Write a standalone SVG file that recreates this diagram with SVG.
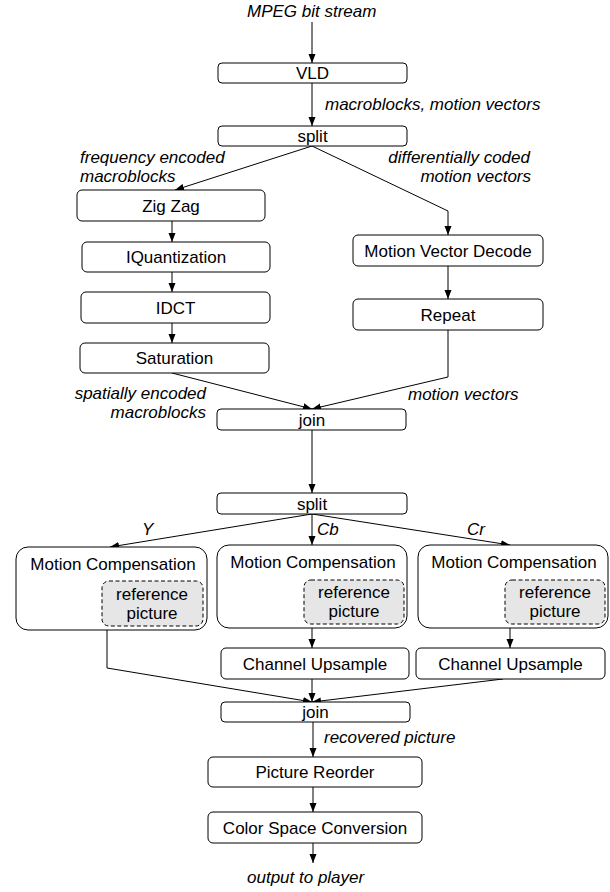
<svg xmlns="http://www.w3.org/2000/svg" width="610" height="892" viewBox="0 0 610 892">
<style>
.box{fill:#fff;stroke:#000;stroke-width:1}
.ref{fill:#e6e6e6;stroke:#000;stroke-width:1;stroke-dasharray:4 2.5}
.t{font-family:"Liberation Sans",Arial,sans-serif;font-size:17px;fill:#000;text-anchor:middle}
.l{font-family:"Liberation Sans",Arial,sans-serif;font-size:17px;font-style:italic;fill:#000}
.c{fill:none;stroke:#000;stroke-width:1}
</style>
<defs>
<marker id="ah" markerUnits="userSpaceOnUse" markerWidth="10" markerHeight="8" refX="9" refY="4" orient="auto">
<path d="M0,0.5 L9,4 L0,7.5 z" fill="#000"/>
</marker>
</defs>
<rect width="610" height="892" fill="#fff"/>

<g id="connectors">
<line class="c" x1="312" y1="22" x2="312" y2="63" marker-end="url(#ah)"/>
<line class="c" x1="312" y1="83" x2="312" y2="126" marker-end="url(#ah)"/>
<line class="c" x1="312" y1="146" x2="175" y2="190" marker-end="url(#ah)"/>
<polyline class="c" points="312,146 448,211 448,235" marker-end="url(#ah)"/>
<line class="c" x1="172" y1="221" x2="172" y2="242" marker-end="url(#ah)"/>
<line class="c" x1="172" y1="272" x2="172" y2="292" marker-end="url(#ah)"/>
<line class="c" x1="172" y1="323" x2="172" y2="343" marker-end="url(#ah)"/>
<line class="c" x1="448" y1="266" x2="448" y2="299" marker-end="url(#ah)"/>
<line class="c" x1="172" y1="373" x2="312" y2="409" marker-end="url(#ah)"/>
<polyline class="c" points="448,330 448,377 312,409" marker-end="url(#ah)"/>
<line class="c" x1="312" y1="430" x2="312" y2="493" marker-end="url(#ah)"/>
<line class="c" x1="312" y1="514" x2="110" y2="547" marker-end="url(#ah)"/>
<line class="c" x1="312" y1="514" x2="312" y2="545" marker-end="url(#ah)"/>
<line class="c" x1="312" y1="514" x2="510" y2="545" marker-end="url(#ah)"/>
<line class="c" x1="312" y1="628" x2="312" y2="648" marker-end="url(#ah)"/>
<line class="c" x1="510" y1="628" x2="510" y2="648" marker-end="url(#ah)"/>
<polyline class="c" points="107,630 107,668 312,702" marker-end="url(#ah)"/>
<line class="c" x1="312" y1="679" x2="312" y2="702" marker-end="url(#ah)"/>
<line class="c" x1="503" y1="679" x2="312" y2="702" marker-end="url(#ah)"/>
<line class="c" x1="313" y1="722" x2="313" y2="757" marker-end="url(#ah)"/>
<line class="c" x1="313" y1="787" x2="313" y2="812" marker-end="url(#ah)"/>
<line class="c" x1="313" y1="843" x2="313" y2="863" marker-end="url(#ah)"/>
</g>

<g id="labels">
<text class="l" x="247" y="17">MPEG bit stream</text>
<text class="l" x="325" y="110">macroblocks, motion vectors</text>
<text class="l" x="80" y="163">frequency encoded</text>
<text class="l" x="80" y="182">macroblocks</text>
<text class="l" x="530" y="163" text-anchor="end">differentially coded</text>
<text class="l" x="531" y="182" text-anchor="end">motion vectors</text>
<text class="l" x="206" y="399" text-anchor="end">spatially encoded</text>
<text class="l" x="206" y="418" text-anchor="end">macroblocks</text>
<text class="l" x="408" y="400">motion vectors</text>
<text class="l" x="142" y="535">Y</text>
<text class="l" x="317" y="535">Cb</text>
<text class="l" x="467" y="535">Cr</text>
<text class="l" x="324" y="743">recovered picture</text>
<text class="l" x="247" y="883">output to player</text>
</g>

<g id="vld"><rect class="box" x="218" y="63" width="189" height="20" rx="4"/><text class="t" x="312.5" y="79">VLD</text></g>
<g id="split1"><rect class="box" x="218" y="126" width="189" height="20" rx="4"/><text class="t" x="312.5" y="142">split</text></g>
<g id="zigzag"><rect class="box" x="77" y="190" width="188" height="31" rx="5"/><text class="t" x="171" y="211.5">Zig Zag</text></g>
<g id="iquant"><rect class="box" x="82" y="242" width="188" height="30" rx="5"/><text class="t" x="176" y="263">IQuantization</text></g>
<g id="idct"><rect class="box" x="81" y="292" width="189" height="31" rx="5"/><text class="t" x="175.5" y="313.5">IDCT</text></g>
<g id="saturation"><rect class="box" x="80" y="343" width="189" height="30" rx="5"/><text class="t" x="174.5" y="364">Saturation</text></g>
<g id="mvd"><rect class="box" x="353" y="235" width="190" height="31" rx="5"/><text class="t" x="448" y="256.5">Motion Vector Decode</text></g>
<g id="repeat"><rect class="box" x="353" y="299" width="190" height="31" rx="5"/><text class="t" x="448" y="320.5">Repeat</text></g>
<g id="join1"><rect class="box" x="217" y="409" width="189" height="21" rx="4"/><text class="t" x="312" y="425.5">join</text></g>
<g id="split2"><rect class="box" x="217" y="493" width="190" height="21" rx="4"/><text class="t" x="312" y="509.5">split</text></g>

<g id="mc-y">
<rect class="box" x="16" y="547" width="191" height="83" rx="12"/>
<text class="t" x="113" y="570">Motion Compensation</text>
<rect class="ref" x="102" y="581" width="101" height="45" rx="7"/>
<text class="t" x="152" y="600">reference</text>
<text class="t" x="152" y="619">picture</text>
</g>
<g id="mc-cb">
<rect class="box" x="217" y="545" width="190" height="83" rx="12"/>
<text class="t" x="313" y="568">Motion Compensation</text>
<rect class="ref" x="304" y="580" width="100" height="44" rx="7"/>
<text class="t" x="354" y="598">reference</text>
<text class="t" x="354" y="617">picture</text>
</g>
<g id="mc-cr">
<rect class="box" x="418" y="545" width="190" height="83" rx="12"/>
<text class="t" x="514" y="568">Motion Compensation</text>
<rect class="ref" x="505" y="580" width="100" height="44" rx="7"/>
<text class="t" x="555" y="598">reference</text>
<text class="t" x="555" y="617">picture</text>
</g>
<g id="cu-cb"><rect class="box" x="221" y="648" width="188" height="31" rx="5"/><text class="t" x="315" y="669.5">Channel Upsample</text></g>
<g id="cu-cr"><rect class="box" x="416" y="648" width="189" height="31" rx="5"/><text class="t" x="510.5" y="669.5">Channel Upsample</text></g>
<g id="join2"><rect class="box" x="221" y="702" width="189" height="20" rx="4"/><text class="t" x="315.5" y="718">join</text></g>
<g id="reorder"><rect class="box" x="208" y="757" width="214" height="30" rx="5"/><text class="t" x="315" y="778">Picture Reorder</text></g>
<g id="csc"><rect class="box" x="208" y="812" width="214" height="31" rx="5"/><text class="t" x="315" y="833.5">Color Space Conversion</text></g>
</svg>
